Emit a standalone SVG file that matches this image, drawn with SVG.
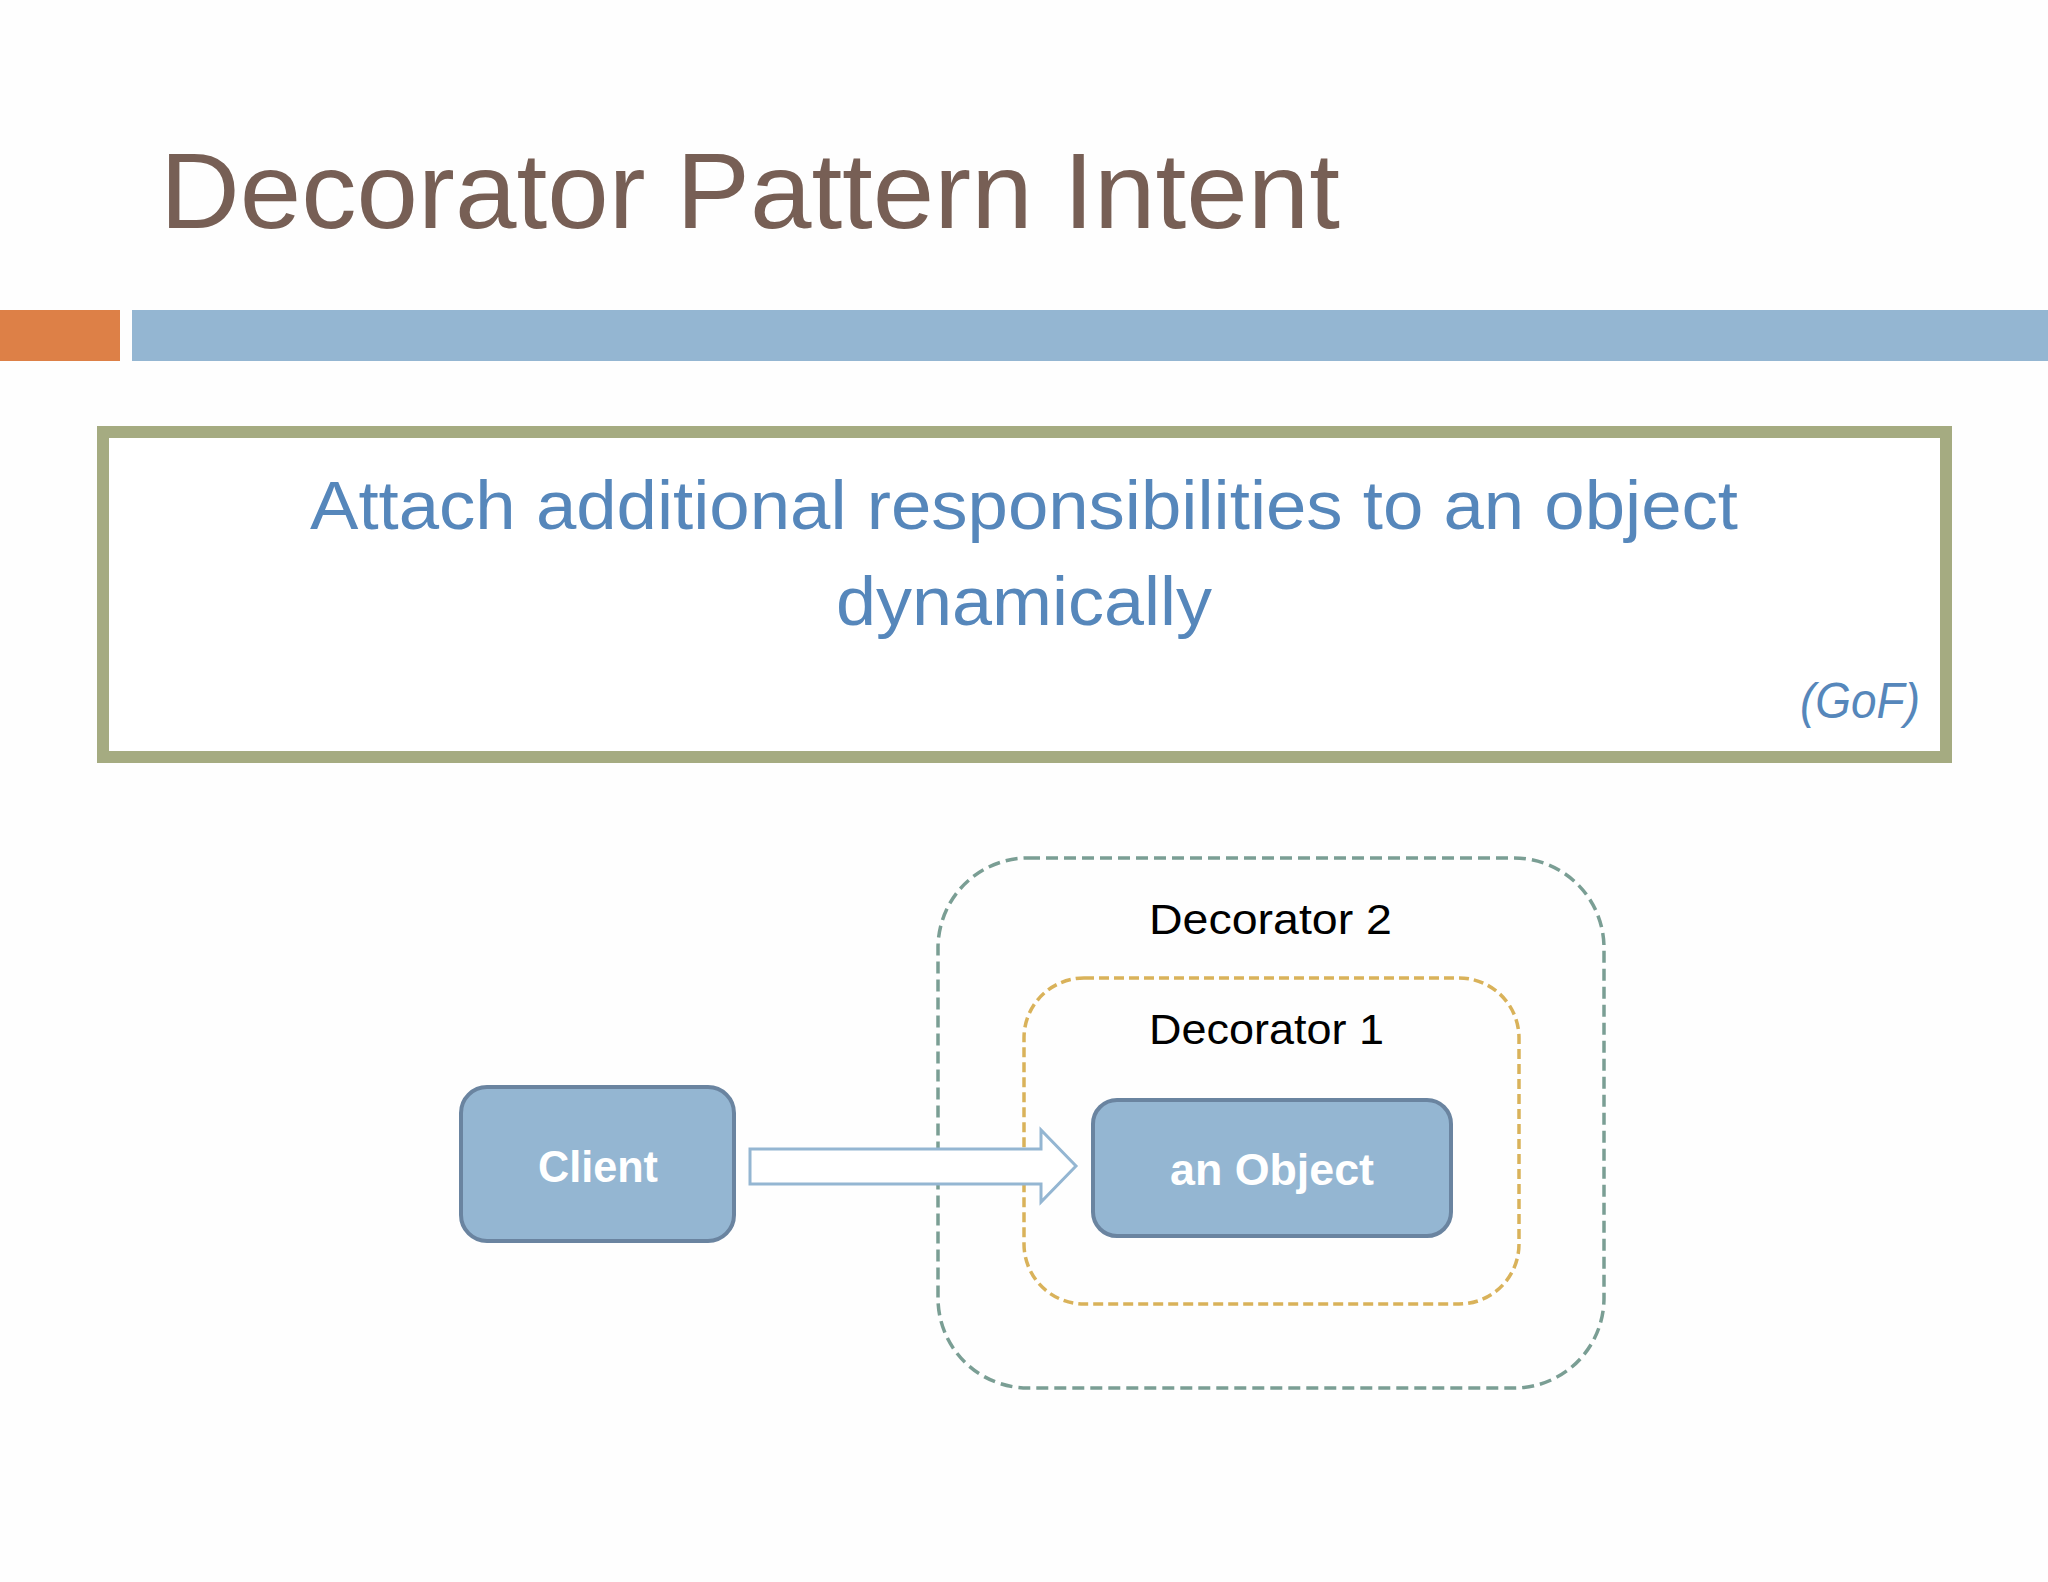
<svg xmlns="http://www.w3.org/2000/svg" width="2048" height="1582" viewBox="0 0 2048 1582">
<style>
.t{font-family:"Liberation Sans",Arial,sans-serif}
.box{fill:#94B6D2;stroke:#6A84A0;stroke-width:4}
.lbl{fill:#FFFFFF;font-weight:bold;font-size:45px}
.dec{fill:#000000;font-size:43px}
</style>
<rect width="2048" height="1582" fill="#FEFEFE"/>
<g id="title">
<text class="t" x="160" y="228" font-size="108" fill="#775F55" textLength="1180" lengthAdjust="spacingAndGlyphs">Decorator Pattern Intent</text>
</g>
<g id="bars">
<rect x="0" y="310" width="120" height="51" fill="#DD8047"/>
<rect x="132" y="310" width="1916" height="51" fill="#94B6D2"/>
</g>
<g id="intent">
<rect x="103" y="432" width="1843" height="325" fill="#FFFFFF" stroke="#A5AB81" stroke-width="12"/>
<text class="t" x="310" y="529" font-size="68" fill="#5687BB" textLength="1428" lengthAdjust="spacingAndGlyphs">Attach additional responsibilities to an object</text>
<text class="t" x="836" y="625" font-size="68" fill="#5687BB" textLength="376" lengthAdjust="spacingAndGlyphs">dynamically</text>
<text class="t" x="1800" y="718" font-size="50" font-style="italic" fill="#5687BB" textLength="120" lengthAdjust="spacingAndGlyphs">(GoF)</text>
</g>
<g id="decorator2">
<rect x="938" y="858" width="666" height="530" rx="90" ry="90" fill="none" stroke="#7A9E94" stroke-width="3.5" stroke-dasharray="12 6"/>
<text class="t dec" x="1149" y="934" textLength="243" lengthAdjust="spacingAndGlyphs">Decorator 2</text>
</g>
<g id="decorator1">
<rect x="1024" y="978" width="495" height="326" rx="60" ry="60" fill="none" stroke="#D9B25A" stroke-width="3.5" stroke-dasharray="10 5"/>
<text class="t dec" x="1149" y="1044" textLength="235" lengthAdjust="spacingAndGlyphs">Decorator 1</text>
</g>
<g id="client">
<rect class="box" x="461" y="1087" width="273" height="154" rx="26" ry="26"/>
<text class="t lbl" x="538" y="1182" textLength="120" lengthAdjust="spacingAndGlyphs">Client</text>
</g>
<g id="anObject">
<rect class="box" x="1093" y="1100" width="358" height="136" rx="24" ry="24"/>
<text class="t lbl" x="1170" y="1185" textLength="204" lengthAdjust="spacingAndGlyphs">an Object</text>
</g>
<g id="connectors">
<polygon points="750,1149 1041,1149 1041,1130 1076,1166 1041,1202 1041,1184 750,1184" fill="#FFFFFF" stroke="#94B6D2" stroke-width="3"/>
</g>
</svg>
